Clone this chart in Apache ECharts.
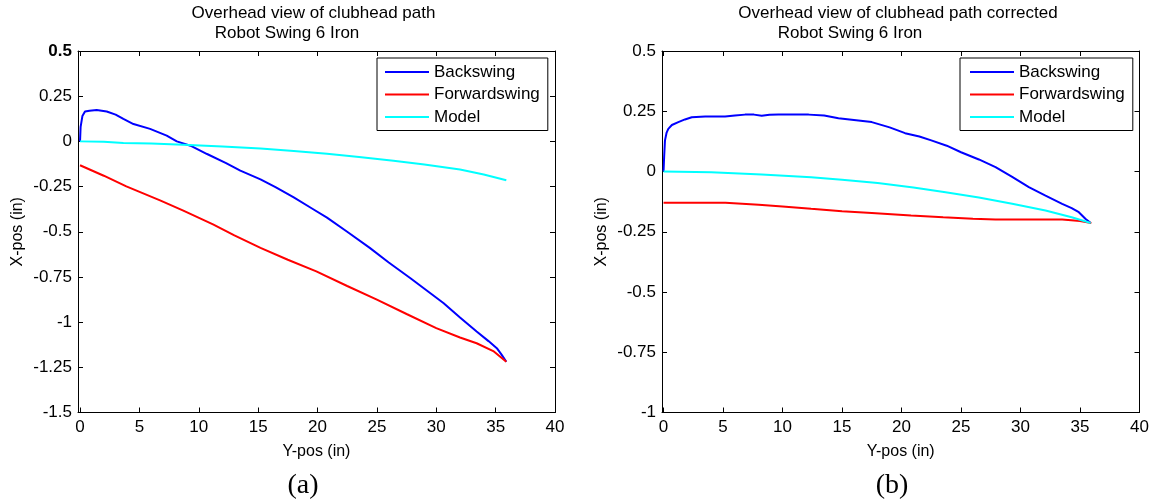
<!DOCTYPE html>
<html>
<head>
<meta charset="utf-8">
<script src="https://cdn.jsdelivr.net/npm/echarts@6/dist/echarts.min.js"></script>
<style>
  html, body { margin: 0; padding: 0; background: #fff; }
  #chart { width: 1156px; height: 503px; }
</style>
</head>
<body>
<div id="chart"></div>
<script>
// ---- Panel (a): raw clubhead path, [Y-pos, X-pos] in inches ----
const backswingA = [
  [0, 0], [0.05, 0.08], [0.2, 0.14], [0.42, 0.165], [0.8, 0.17], [1.4, 0.174],
  [2.25, 0.165], [3, 0.148], [3.65, 0.124], [4.5, 0.096], [5.9, 0.069], [7.3, 0.032],
  [8.15, 0.0], [9.3, -0.024], [10.7, -0.07], [12.3, -0.12], [13.5, -0.162], [15.2, -0.21],
  [16.5, -0.255], [18, -0.31], [19.5, -0.37], [20.8, -0.422], [22.5, -0.5], [24.4, -0.589],
  [26, -0.67], [27.8, -0.756], [29.2, -0.825], [30.6, -0.894], [32, -0.975], [33.4, -1.052],
  [34.4, -1.105], [35.1, -1.144], [35.5, -1.18], [35.9, -1.219]
];
const forwardswingA = [
  [0, -0.132], [2, -0.19], [3.9, -0.249], [6.74, -0.326], [8.7, -0.383], [11.2, -0.459],
  [13, -0.52], [15.2, -0.589], [17.5, -0.655], [19.9, -0.719], [22.5, -0.8], [25, -0.876],
  [27.5, -0.955], [30, -1.033], [32, -1.085], [33.4, -1.117], [34.8, -1.16], [35.9, -1.219]
];
const modelA = [
  [0, 0], [2, -0.002], [3.65, -0.009], [6, -0.012], [8.7, -0.018], [12, -0.028],
  [15.2, -0.04], [18, -0.053], [20.8, -0.068], [23.5, -0.086], [26.4, -0.107], [29, -0.128],
  [32, -0.156], [34, -0.183], [35.9, -0.215]
];

// ---- Panel (b): corrected clubhead path ----
const backswingB = [
  [0, 0], [0.05, 0.06], [0.12, 0.129], [0.25, 0.16], [0.4, 0.177], [0.7, 0.193],
  [1.24, 0.205], [1.8, 0.216], [2.37, 0.225], [3.5, 0.228], [5.17, 0.228], [6.0, 0.232],
  [6.85, 0.236], [7.6, 0.236], [8.25, 0.231], [8.9, 0.235], [9.65, 0.236], [11, 0.236],
  [12.2, 0.236], [13.5, 0.232], [14.7, 0.221], [16, 0.214], [17.5, 0.205], [19, 0.183],
  [20.3, 0.159], [21.5, 0.145], [22.5, 0.129], [23.8, 0.107], [25.0, 0.08], [26.5, 0.05],
  [27.9, 0.018], [29.3, -0.022], [30.7, -0.065], [32.1, -0.1], [33.5, -0.134], [34.3, -0.152],
  [34.9, -0.169], [35.45, -0.196], [35.9, -0.214]
];
const forwardswingB = [
  [0, -0.13], [2, -0.13], [5.2, -0.13], [8, -0.138], [10, -0.145], [12.4, -0.155],
  [15, -0.165], [17.5, -0.172], [20.8, -0.183], [23.5, -0.19], [26, -0.196], [27.9, -0.199],
  [30, -0.199], [33.5, -0.199], [35, -0.205], [35.95, -0.214]
];
const modelB = [
  [0, 0], [4.0, -0.003], [8.25, -0.012], [12.4, -0.024], [15, -0.034], [18, -0.048],
  [21, -0.066], [23.7, -0.086], [26.5, -0.108], [29.3, -0.134], [32.1, -0.162], [34.3, -0.19],
  [35.9, -0.214]
];

// ---- Shared labels and ticks ----
const seriesNames = ['Backswing', 'Forwardswing', 'Model'];
const seriesColors = ['#0000ff', '#ff0000', '#00ffff'];
const xTicks = [0, 5, 10, 15, 20, 25, 30, 35, 40];
const titleLine1A = 'Overhead view of clubhead path';
const titleLine1B = 'Overhead view of clubhead path corrected';
const titleLine2 = 'Robot Swing 6 Iron';
const xName = 'Y-pos (in)';
const yName = 'X-pos (in)';
const panelTags = ['(a)', '(b)'];

const FONT = '"Liberation Sans", Arial, Helvetica, sans-serif';
const SERIF = '"Liberation Serif", "Times New Roman", serif';
const FS = 17;

function xAxisDef(grid, position, xmin) {
  const bottom = position === 'bottom';
  return {
    type: 'value', gridIndex: grid, position: position, min: xmin, max: 40,
    axisLine: { show: true, onZero: false, lineStyle: { color: '#000', width: 1 } },
    axisTick: { show: true, inside: true, length: 5, customValues: xTicks, lineStyle: { color: '#000', width: 1 } },
    axisLabel: { show: bottom, customValues: xTicks, margin: 6, color: '#000', fontSize: FS, fontFamily: FONT },
    splitLine: { show: false },
    name: bottom ? xName : '', nameLocation: 'middle', nameGap: 31,
    nameTextStyle: { color: '#000', fontSize: 16, fontFamily: FONT }
  };
}
function yAxisDef(grid, position, ymin, boldTop) {
  const left = position === 'left';
  return {
    type: 'value', gridIndex: grid, position: position, min: ymin, max: 0.5, interval: 0.25,
    axisLine: { show: true, onZero: false, lineStyle: { color: '#000', width: 1 } },
    axisTick: { show: true, inside: true, length: 5, lineStyle: { color: '#000', width: 1 } },
    axisLabel: {
      show: left, margin: 6, color: '#000', fontSize: FS, fontFamily: FONT,
      formatter: v => (boldTop && v === 0.5) ? '{b|' + v + '}' : String(v),
      rich: { b: { fontWeight: 'bold', fontSize: FS, fontFamily: FONT, color: '#000' } }
    },
    splitLine: { show: false },
    name: left ? yName : '', nameLocation: 'middle', nameGap: 52,
    nameTextStyle: { color: '#000', fontSize: 16, fontFamily: FONT }
  };
}
function lineSeries(name, idx, data, axis) {
  return {
    type: 'line', name: name, data: data, xAxisIndex: axis, yAxisIndex: axis,
    showSymbol: false, symbol: 'none', silent: true,
    lineStyle: { color: seriesColors[idx], width: 2 },
    itemStyle: { color: seriesColors[idx] }
  };
}
function legendDef(left, padLeft) {
  return {
    data: seriesNames, orient: 'vertical', left: left, top: 58,
    icon: 'rect', itemWidth: 44, itemHeight: 2, itemGap: 5.5,
    padding: [5.5, 8, 5, padLeft], borderColor: '#000', borderWidth: 1, borderRadius: 0,
    backgroundColor: '#fff', selectedMode: false,
    textStyle: { color: '#000', fontSize: FS, fontFamily: FONT }
  };
}
function text(str, x, y, font) {
  return { type: 'text', x: x, y: y, silent: true,
    style: { text: str, font: font, fill: '#000', align: 'center', verticalAlign: 'middle' } };
}

const chart = echarts.init(document.getElementById('chart'), null, { renderer: 'canvas' });
chart.setOption({
  animation: false,
  backgroundColor: '#fff',
  grid: [
    { left: 78, top: 51, width: 477, height: 361.5 },
    { left: 662, top: 51, width: 477.5, height: 361.5 }
  ],
  xAxis: [
    xAxisDef(0, 'bottom', -0.17), xAxisDef(0, 'top', -0.17),
    xAxisDef(1, 'bottom', -0.13), xAxisDef(1, 'top', -0.13)
  ],
  yAxis: [
    yAxisDef(0, 'left', -1.5, true), yAxisDef(0, 'right', -1.5, false),
    yAxisDef(1, 'left', -1, false), yAxisDef(1, 'right', -1, false)
  ],
  legend: [legendDef(377, 8), legendDef(960, 10)],
  series: [
    lineSeries(seriesNames[0], 0, backswingA, 0),
    lineSeries(seriesNames[1], 1, forwardswingA, 0),
    lineSeries(seriesNames[2], 2, modelA, 0),
    lineSeries(seriesNames[0], 0, backswingB, 2),
    lineSeries(seriesNames[1], 1, forwardswingB, 2),
    lineSeries(seriesNames[2], 2, modelB, 2)
  ],
  graphic: [
    text(titleLine1A, 313.5, 13, FS + 'px ' + FONT),
    text(titleLine2, 287, 33, FS + 'px ' + FONT),
    text(titleLine1B, 898, 13, FS + 'px ' + FONT),
    text(titleLine2, 850, 33, FS + 'px ' + FONT),
    text(panelTags[0], 303, 486, '28px ' + SERIF),
    text(panelTags[1], 892, 486, '28px ' + SERIF)
  ]
});
</script>
</body>
</html>
